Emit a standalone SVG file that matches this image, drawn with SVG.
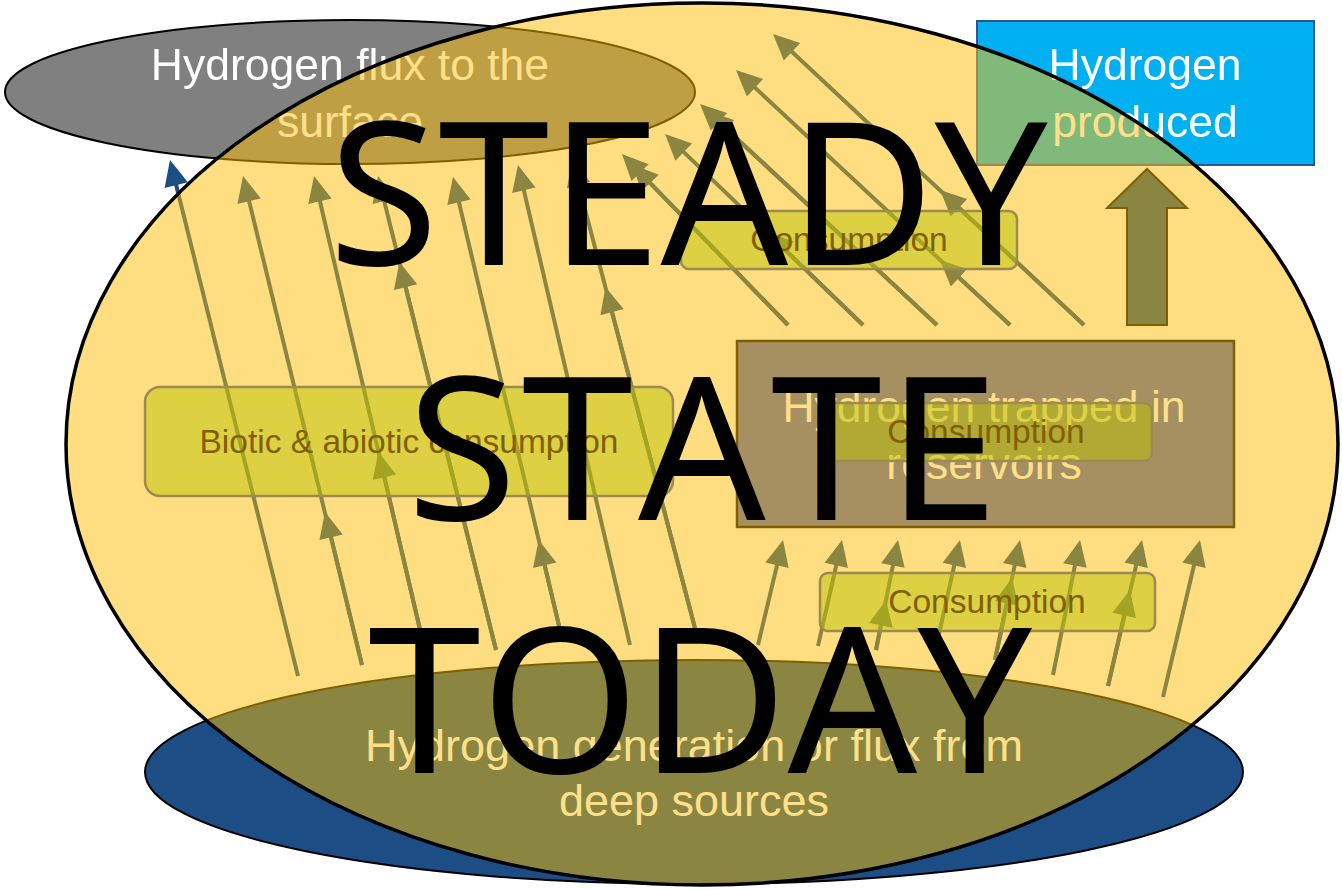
<svg xmlns="http://www.w3.org/2000/svg" width="1342" height="890" viewBox="0 0 1342 890">
<defs>
<style>
.lbl{font-family:"Liberation Sans",Arial,sans-serif;font-size:44.5px;text-anchor:middle}
.w{fill:#FFFFFF}
.yl{fill:#FFE08A}
.cons{font-family:"Liberation Sans",Arial,sans-serif;font-size:33.5px;fill:#7F6000;text-anchor:middle}
.cbox{fill:#BBC206;fill-opacity:0.5;stroke:#9C8A4E;stroke-width:2.5}
.arr{stroke:#8A8642;stroke-width:4;fill:none;marker-end:url(#ah)}
.arrb{stroke:#1C4D85;stroke-width:4;fill:none;marker-end:url(#ahb)}
.big{font-family:"Noto Sans","Open Sans",sans-serif;font-size:200px;fill:#000000;text-anchor:middle;font-kerning:none}
</style>
<marker id="ah" markerUnits="userSpaceOnUse" markerWidth="30" markerHeight="30" refX="6" refY="0" orient="auto" style="overflow:visible"><path d="M0,-12 L26,0 L0,12 Z" fill="#8A8642"/></marker>
<marker id="ahb" markerUnits="userSpaceOnUse" markerWidth="30" markerHeight="30" refX="6" refY="0" orient="auto" style="overflow:visible"><path d="M0,-12 L26,0 L0,12 Z" fill="#1C4D85"/></marker>
<clipPath id="inside"><ellipse cx="702" cy="444" rx="636" ry="441"/></clipPath>
<mask id="outside" maskUnits="userSpaceOnUse" x="0" y="0" width="1342" height="890"><rect x="0" y="0" width="1342" height="890" fill="#FFFFFF"/><ellipse cx="702" cy="444" rx="636" ry="441" fill="#000000"/></mask>
</defs>

<g id="steady-state-area"><ellipse cx="702" cy="444" rx="636" ry="441" fill="#FFDE81"/></g>

<g id="surface-flux">
<g mask="url(#outside)">
<ellipse cx="350" cy="92" rx="345" ry="72" fill="#808080" stroke="#000000" stroke-width="2"/>
<text class="lbl w" x="350" y="80">Hydrogen flux to the</text>
<text class="lbl w" x="350" y="137">surface</text>
</g>
<g clip-path="url(#inside)">
<ellipse cx="350" cy="92" rx="345" ry="72" fill="#BF9F43" stroke="#7F6000" stroke-width="2"/>
<text class="lbl yl" x="350" y="80">Hydrogen flux to the</text>
<text class="lbl yl" x="350" y="137">surface</text>
</g>
</g>

<g id="hydrogen-produced">
<g mask="url(#outside)">
<rect x="977" y="21" width="337" height="144" fill="#00B0F0" stroke="#2F5597" stroke-width="2"/>
<text class="lbl w" x="1145" y="80">Hydrogen</text>
<text class="lbl w" x="1145" y="137">produced</text>
</g>
<g clip-path="url(#inside)">
<rect x="977" y="21" width="337" height="144" fill="#80B97A" stroke="#A08A50" stroke-width="2"/>
<text class="lbl yl" x="1145" y="80">Hydrogen</text>
<text class="lbl yl" x="1145" y="137">produced</text>
</g>
</g>

<g id="deep-sources">
<g mask="url(#outside)">
<ellipse cx="694" cy="772" rx="549" ry="112" fill="#1C4D85" stroke="#000000" stroke-width="2"/>
</g>
<g clip-path="url(#inside)">
<ellipse cx="694" cy="772" rx="549" ry="112" fill="#8A8642" stroke="#7F6000" stroke-width="2"/>
<text class="lbl yl" x="694" y="761" style="font-size:45px">Hydrogen generation or flux from</text>
<text class="lbl yl" x="694" y="816" style="font-size:45px">deep sources</text>
</g>
</g>

<g id="connectors">
<g mask="url(#outside)">
<line class="arrb" x1="298" y1="676" x2="174.8" y2="179.4"/>
</g>
<g clip-path="url(#inside)">
<line class="arr" x1="298" y1="676" x2="174.8" y2="179.4"/>
<line class="arr" x1="362" y1="665" x2="247.7" y2="195.4"/>
<line class="arr" x1="362" y1="665" x2="329.7" y2="531.4"/>
<line class="arr" x1="425" y1="651" x2="318.6" y2="195.5"/>
<line class="arr" x1="425" y1="651" x2="383" y2="471.5"/>
<line class="arr" x1="496" y1="650" x2="382.8" y2="195.4"/>
<line class="arr" x1="496" y1="650" x2="404.2" y2="281.4"/>
<line class="arr" x1="560" y1="630" x2="457.6" y2="196.5"/>
<line class="arr" x1="560" y1="630" x2="543.3" y2="559.5"/>
<line class="arr" x1="630" y1="645" x2="522.5" y2="184.5"/>
<line class="arr" x1="696" y1="632" x2="577.1" y2="179.3"/>
<line class="arr" x1="696" y1="632" x2="610.5" y2="306.3"/>
<line class="arr" x1="788" y1="325" x2="635.9" y2="168.4"/>
<line class="arr" x1="788" y1="325" x2="645.9" y2="178.7"/>
<line class="arr" x1="863" y1="325" x2="679.4" y2="147.9"/>
<line class="arr" x1="863" y1="325" x2="781" y2="245.9"/>
<line class="arr" x1="937" y1="325" x2="714.6" y2="117.6"/>
<line class="arr" x1="937" y1="325" x2="721.6" y2="124.6"/>
<line class="arr" x1="1010" y1="325" x2="750.6" y2="83.6"/>
<line class="arr" x1="1010" y1="325" x2="954.6" y2="273.6"/>
<line class="arr" x1="1084" y1="325" x2="787.6" y2="47.7"/>
<line class="arr" x1="1084" y1="325" x2="954.6" y2="203.7"/>
<line class="arr" x1="758" y1="645" x2="778.4" y2="559.5"/>
<line class="arr" x1="818" y1="646" x2="837.6" y2="559.5"/>
<line class="arr" x1="876" y1="650" x2="894.1" y2="559.6"/>
<line class="arr" x1="876" y1="650" x2="882.1" y2="619.6"/>
<line class="arr" x1="935" y1="652" x2="955.6" y2="559.5"/>
<line class="arr" x1="995" y1="660" x2="1015.9" y2="559.6"/>
<line class="arr" x1="995" y1="660" x2="1007.9" y2="597.6"/>
<line class="arr" x1="1053" y1="675" x2="1076.1" y2="559.6"/>
<line class="arr" x1="1108" y1="686" x2="1137.5" y2="559.5"/>
<line class="arr" x1="1108" y1="686" x2="1125.5" y2="609.5"/>
<line class="arr" x1="1163" y1="697" x2="1195.4" y2="559.5"/>
</g>
</g>

<g id="reservoirs">
<rect x="737" y="341" width="497" height="186" fill="#A69062" stroke="#7F6000" stroke-width="2.5"/>
<text class="lbl yl" x="984" y="422">Hydrogen trapped in</text>
<text class="lbl yl" x="984" y="479">reservoirs</text>
</g>

<g id="production-arrow">
<polygon points="1127,325 1127,208 1107,208 1147,169 1187,208 1167,208 1167,325" fill="#8A8642" stroke="#7F6000" stroke-width="2"/>
</g>

<g id="biotic-consumption">
<rect class="cbox" x="145" y="387" width="528" height="109" rx="15"/>
<text class="cons" x="409" y="453">Biotic &amp; abiotic consumption</text>
</g>

<g id="consumption-upper">
<rect class="cbox" x="681" y="211" width="336" height="58" rx="8"/>
<text class="cons" x="849" y="251">Consumption</text>
</g>

<g id="consumption-reservoir">
<rect class="cbox" x="820" y="403" width="332" height="58" rx="8"/>
<text class="cons" x="986" y="443">Consumption</text>
</g>

<g id="consumption-lower">
<rect class="cbox" x="820" y="573" width="335" height="58" rx="8"/>
<text class="cons" x="987" y="613">Consumption</text>
</g>

<g id="steady-state-title">
<ellipse cx="702" cy="444" rx="636" ry="441" fill="none" stroke="#000000" stroke-width="3.5"/>
<text class="big" x="688" y="265">STEADY</text>
<text class="big" x="705" y="520" style="letter-spacing:5px">STATE</text>
<text class="big" x="700" y="773" style="font-size:203px">TODAY</text>
</g>
</svg>
